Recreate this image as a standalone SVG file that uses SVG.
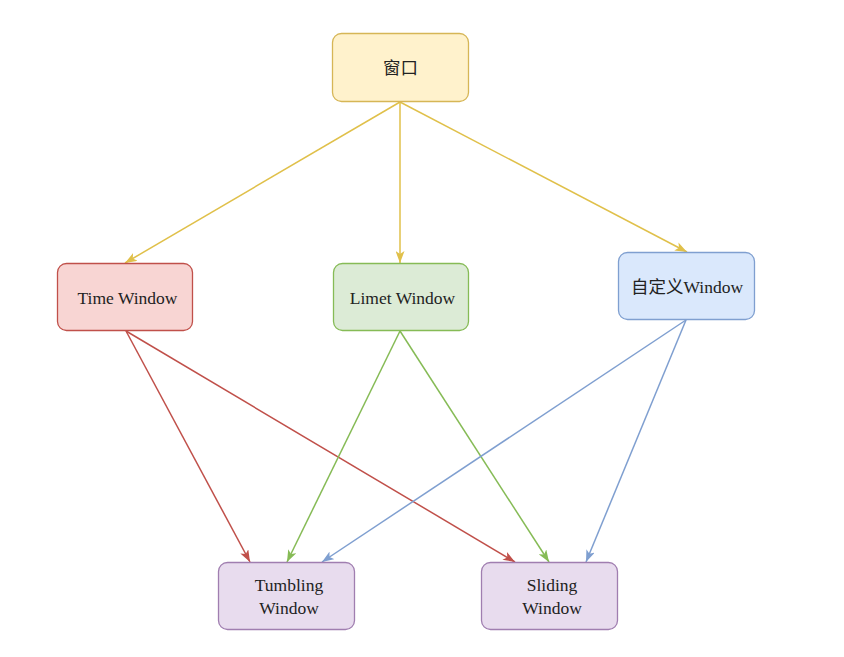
<svg xmlns="http://www.w3.org/2000/svg" width="844" height="657" viewBox="0 0 844 657">
<style>
.n rect{stroke-width:1.3}
.t{font-family:"Liberation Serif","Noto Sans CJK SC",serif;font-size:17.5px;fill:#222;text-anchor:middle}
.e{fill:none;stroke-width:1.5}
</style>
<defs>
<marker id="ay" viewBox="0 0 12 9" refX="12" refY="4.5" markerWidth="12" markerHeight="9" markerUnits="userSpaceOnUse" orient="auto"><path d="M0,0 L12,4.5 L0,9 L3,4.5 Z" fill="#e0c04a"/></marker>
<marker id="ar" viewBox="0 0 12 9" refX="12" refY="4.5" markerWidth="12" markerHeight="9" markerUnits="userSpaceOnUse" orient="auto"><path d="M0,0 L12,4.5 L0,9 L3,4.5 Z" fill="#c0504a"/></marker>
<marker id="ag" viewBox="0 0 12 9" refX="12" refY="4.5" markerWidth="12" markerHeight="9" markerUnits="userSpaceOnUse" orient="auto"><path d="M0,0 L12,4.5 L0,9 L3,4.5 Z" fill="#86bb56"/></marker>
<marker id="ab" viewBox="0 0 12 9" refX="12" refY="4.5" markerWidth="12" markerHeight="9" markerUnits="userSpaceOnUse" orient="auto"><path d="M0,0 L12,4.5 L0,9 L3,4.5 Z" fill="#7f9fd0"/></marker>
</defs>
<rect width="844" height="657" fill="#ffffff"/>
<g id="connectors">
<path class="e" stroke="#e0c04a" marker-end="url(#ay)" d="M400,102 L125,263"/>
<path class="e" stroke="#e0c04a" marker-end="url(#ay)" d="M400,102 L400,263"/>
<path class="e" stroke="#e0c04a" marker-end="url(#ay)" d="M400,102 L687,252"/>
<path class="e" stroke="#c0504a" marker-end="url(#ar)" d="M126,331 L250,562"/>
<path class="e" stroke="#c0504a" marker-end="url(#ar)" d="M126,331 L515,562"/>
<path class="e" stroke="#86bb56" marker-end="url(#ag)" d="M400,331 L287,562"/>
<path class="e" stroke="#86bb56" marker-end="url(#ag)" d="M400,331 L549,562"/>
<path class="e" stroke="#7f9fd0" marker-end="url(#ab)" d="M686,320 L322,562"/>
<path class="e" stroke="#7f9fd0" marker-end="url(#ab)" d="M686,320 L586,562"/>
</g>
<g id="node-window" class="n">
<rect x="332.5" y="33.5" width="136" height="68" rx="9" fill="#fff2cc" stroke="#d6b656"/>
<text class="t" x="400.5" y="74">窗口</text>
</g>
<g id="node-time" class="n">
<rect x="57.5" y="263.5" width="135" height="67" rx="9" fill="#f8d5d3" stroke="#c0504a"/>
<text class="t" x="127.5" y="303.5">Time Window</text>
</g>
<g id="node-limet" class="n">
<rect x="333.5" y="263.5" width="135" height="67" rx="9" fill="#dcebd6" stroke="#86bb56"/>
<text class="t" x="402.5" y="303.5">Limet Window</text>
</g>
<g id="node-custom" class="n">
<rect x="618.5" y="252.5" width="136" height="67" rx="9" fill="#dae8fc" stroke="#7f9fd0"/>
<text class="t" x="687" y="292.5">自定义Window</text>
</g>
<g id="node-tumbling" class="n">
<rect x="218.5" y="562.5" width="136" height="67" rx="9" fill="#e8dcee" stroke="#a07eb0"/>
<text class="t" x="289" y="590.5">Tumbling</text>
<text class="t" x="289" y="613.5">Window</text>
</g>
<g id="node-sliding" class="n">
<rect x="481.5" y="562.5" width="136" height="67" rx="9" fill="#e8dcee" stroke="#a07eb0"/>
<text class="t" x="552" y="590.5">Sliding</text>
<text class="t" x="552" y="613.5">Window</text>
</g>
</svg>
